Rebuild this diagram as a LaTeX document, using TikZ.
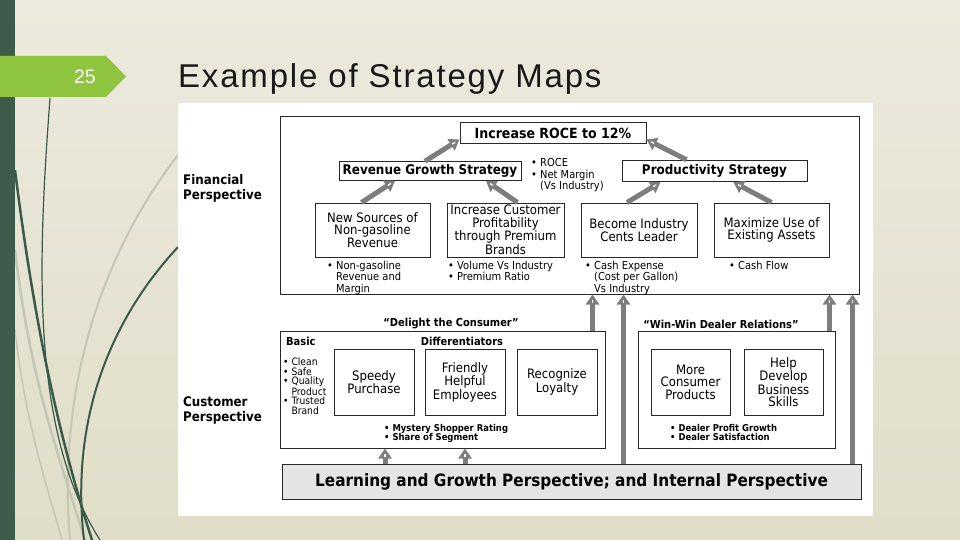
\documentclass[tikz,border=0pt]{standalone}
\usepackage{fontspec}
\setmainfont{DejaVu Sans}[FakeStretch=0.9]
\newfontfamily\slidefont{Liberation Sans}
\usetikzlibrary{arrows.meta,decorations.markings}
\definecolor{slidetop}{RGB}{236,234,222}
\definecolor{slidebottom}{RGB}{224,221,200}
\definecolor{slidebar}{RGB}{62,92,76}
\definecolor{slidetab}{RGB}{143,196,62}
\definecolor{grassdark}{RGB}{60,90,74}
\definecolor{grasslight}{RGB}{196,198,182}
\definecolor{arrowgrey}{RGB}{125,125,125}
\definecolor{boxline}{RGB}{40,40,40}
\definecolor{learnfill}{RGB}{228,228,228}
\newcommand{\fsize}[2]{\fontsize{#1}{#2}\selectfont}

\begin{document}
\begin{tikzpicture}[x=1pt, y=-1pt,
    box/.style={draw=boxline, line width=1pt, fill=white, inner sep=0pt, align=center},
    boxtext/.style={font=\fsize{13}{12.5}},
    headtext/.style={font=\bfseries\fsize{13.3}{14}},
    smalltitle/.style={font=\bfseries\fsize{11}{11}},
    bullets/.style={anchor=north west, inner sep=0pt, align=left, font=\fsize{11}{11.5}},
    tinybullets/.style={anchor=north west, inner sep=0pt, align=left, font=\fsize{10.2}{9.3}},
    boldbullets/.style={anchor=north west, inner sep=0pt, align=left, font=\bfseries\fsize{9.4}{9.5}},
    sidelabel/.style={anchor=west, inner sep=0pt, align=left, font=\bfseries\fsize{13.2}{15}},
    bigarrow/.style={draw=arrowgrey, line width=5pt, -{Triangle[width=13pt,length=10pt]},
        postaction={decorate}, decoration={markings,
        mark=at position -5pt with {\draw[white, line width=1.3pt, -] (-3.5pt,0) -- (0pt,0);}}}
  ]
    \useasboundingbox (0,0) rectangle (960,540);
    \shade[top color=slidetop, bottom color=slidebottom] (0,0) rectangle (960,540);

    \draw[grasslight, line width=2pt] (178,155) .. controls (120,230) and (55,360) .. (70,540);
    \draw[grasslight, line width=2.5pt] (15,250) .. controls (30,380) and (60,460) .. (85,540);
    \draw[grasslight, line width=1.5pt] (15,330) .. controls (25,420) and (45,480) .. (62,540);
    \draw[grassdark, line width=1.2pt] (50,98) .. controls (38,260) and (30,430) .. (100,540);
    \draw[grassdark, line width=2.5pt] (15,170) .. controls (35,330) and (60,440) .. (92,540);
    \draw[grassdark, line width=2pt] (178,247) .. controls (110,320) and (70,420) .. (84,540);

    \fill[slidebar] (0,0) rectangle (15,540);
    \fill[slidetab] (0,56) -- (106,56) -- (126,76.5) -- (106,97) -- (0,97) -- cycle;
    \node[font=\slidefont\fsize{19.5}{20}, text=white] (slidenum) at (85,76.5) {25};
    \node[font=\slidefont\addfontfeature{LetterSpace=5.5}\fsize{33}{33}, text=black!90,
      anchor=base west, inner sep=0pt] (title) at (178,88) {Example of Strategy Maps};

    \fill[white] (178,103) rectangle (873,516);

    \node[box, minimum width=579pt, minimum height=177pt] (fin) at (569.5,205.5) {};
    \node[box, font=\bfseries\fsize{14}{14}, minimum width=186pt, minimum height=21pt]
      (roce) at (553,133.5) {Increase ROCE to 12\%};
    \node[box, headtext, minimum width=182pt, minimum height=18.5pt]
      (revenue) at (430,171) {Revenue Growth Strategy};
    \node[box, headtext, minimum width=185pt, minimum height=21.5pt]
      (productivity) at (714.5,171) {Productivity Strategy};
    \node[box, boxtext, minimum width=115pt, minimum height=54pt]
      (newsources) at (372.5,230) {New Sources of\\Non-gasoline\\Revenue};
    \node[box, boxtext, minimum width=117pt, minimum height=54pt]
      (profit) at (505.5,230) {Increase Customer\\Profitability\\through Premium\\Brands};
    \node[box, boxtext, minimum width=116pt, minimum height=54pt]
      (cents) at (639,230) {Become Industry\\Cents Leader};
    \node[box, boxtext, minimum width=115pt, minimum height=54pt]
      (assets) at (771.5,230) {Maximize Use of\\Existing Assets};

    \node[bullets] (rocebul) at (531,158.5) {• ROCE\\• Net Margin\\\phantom{• }(Vs Industry)};
    \node[bullets] (newbul) at (327,260.5) {• Non-gasoline\\\phantom{• }Revenue and\\\phantom{• }Margin};
    \node[bullets] (profbul) at (448,260.5) {• Volume Vs Industry\\• Premium Ratio};
    \node[bullets] (centsbul) at (585,260.5) {• Cash Expense\\\phantom{• }(Cost per Gallon)\\\phantom{• }Vs Industry};
    \node[bullets] (assetbul) at (729,260.5) {• Cash Flow};

    \node[sidelabel] (finlabel) at (183,188.5) {Financial\\Perspective};
    \node[sidelabel] (custlabel) at (183,410.5) {Customer\\Perspective};

    \node[box, minimum width=325pt, minimum height=117pt] (cust) at (442.5,389.5) {};
    \node[smalltitle] (delight) at (451,324) {“Delight the Consumer”};
    \node[smalltitle, anchor=west, inner sep=0pt] (basic) at (286,341) {Basic};
    \node[smalltitle] (differ) at (462,341) {Differentiators};
    \node[tinybullets] (basicbul) at (283,358)
      {• Clean\\• Safe\\• Quality\\\phantom{• }Product\\• Trusted\\\phantom{• }Brand};
    \node[box, boxtext, minimum width=80pt, minimum height=66pt]
      (speedy) at (374,382) {Speedy\\Purchase};
    \node[box, boxtext, minimum width=80pt, minimum height=66pt]
      (friendly) at (465,382) {Friendly\\Helpful\\Employees};
    \node[box, boxtext, minimum width=80pt, minimum height=66pt]
      (loyalty) at (557,382) {Recognize\\Loyalty};
    \node[boldbullets] (custbul) at (384,424) {• Mystery Shopper Rating\\• Share of Segment};

    \node[box, minimum width=197pt, minimum height=117pt] (dealer) at (736.5,389.5) {};
    \node[smalltitle] (winwin) at (721,324) {“Win-Win Dealer Relations”};
    \node[box, boxtext, minimum width=79pt, minimum height=66pt]
      (products) at (690.5,382) {More\\Consumer\\Products};
    \node[box, boxtext, minimum width=79pt, minimum height=66pt]
      (skills) at (783.5,382) {Help\\Develop\\Business\\Skills};
    \node[boldbullets] (dealerbul) at (670,424) {• Dealer Profit Growth\\• Dealer Satisfaction};

    \node[box, fill=learnfill, font=\bfseries\fsize{17}{17}, minimum width=579pt, minimum height=35pt]
      (learn) at (571.5,481.5) {Learning and Growth Perspective; and Internal Perspective};

    \draw[bigarrow] ([xshift=-11pt]newsources.north) -- ([xshift=-35pt]revenue.south);
    \draw[bigarrow] ([xshift=12pt]profit.north) -- ([xshift=56pt]revenue.south);
    \draw[bigarrow] ([xshift=-5pt]revenue.north) -- ([yshift=5pt]roce.south west);
    \draw[bigarrow] ([xshift=-28pt]productivity.north) -- ([yshift=5pt]roce.south east);
    \draw[bigarrow] ([xshift=-12pt]cents.north) -- ([xshift=-54pt]productivity.south);
    \draw[bigarrow] (assets.north) -- ([xshift=19pt]productivity.south);

    \coordinate (upa) at ([xshift=-13pt]cust.north east);
    \coordinate (upb) at ([xshift=52pt]learn.north);
    \coordinate (upc) at ([xshift=-6pt]dealer.north east);
    \coordinate (upd) at ([xshift=-9pt]learn.north east);
    \coordinate (upe) at ([xshift=-186.5pt]learn.north);
    \coordinate (upf) at ([xshift=-106.5pt]learn.north);
    \draw[bigarrow] (upa) -- (upa |- fin.south);
    \draw[bigarrow] (upb) -- (upb |- fin.south);
    \draw[bigarrow] (upc) -- (upc |- fin.south);
    \draw[bigarrow] (upd) -- (upd |- fin.south);
    \draw[bigarrow] (upe) -- (upe |- cust.south);
    \draw[bigarrow] (upf) -- (upf |- cust.south);
  \end{tikzpicture}
\end{document}
